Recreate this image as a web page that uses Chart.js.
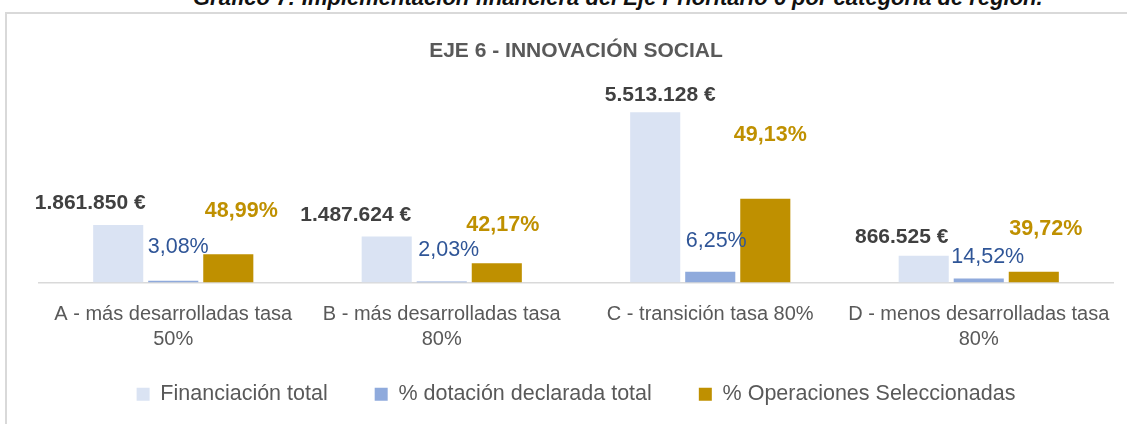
<!DOCTYPE html>
<html lang="es">
<head>
<meta charset="utf-8">
<title>Eje 6 - Innovación social</title>
<script src="https://cdn.jsdelivr.net/npm/chart.js@4.4.1/dist/chart.umd.min.js"></script>
<style>
    html, body { margin: 0; padding: 0; background: #fff; overflow: hidden; width: 1127px; height: 424px; }
    .caption {
        position: absolute; left: 193px; top: -13px; white-space: nowrap;
        font: italic bold 22px 'Liberation Sans', Arial, sans-serif;
        line-height: 22px; color: #111;
    }
    .frame {
        position: absolute; left: 5px; top: 12px; width: 1200px; height: 500px;
        border-left: 2px solid #d9d9d9; border-top: 2px solid #d9d9d9;
    }
    #wrap { position: absolute; left: 7px; top: 14px; width: 1140px; height: 439px; }
</style>
</head>
<body>
<div class="caption">Gráfico 7: Implementación financiera del Eje Prioritario 6 por categoría de región.</div>
<div class="frame"></div>
<div id="wrap"><canvas id="myChart" width="1140" height="439"></canvas></div>
<script>
    // datos del gráfico
    const categorias = [
        ['A - más desarrolladas tasa', '50%'],
        ['B - más desarrolladas tasa', '80%'],
        ['C - transición tasa 80%'],
        ['D - menos desarrolladas tasa', '80%']
    ];
    const financiacionTotal = [1861850, 1487624, 5513128, 866525];
    const pctDotacion = [3.08, 2.03, 6.25, 14.52];
    const pctOperaciones = [48.99, 42.17, 49.13, 39.72];
    const nombresSeries = ['Financiación total', '% dotación declarada total', '% Operaciones Seleccionadas'];

    // desplazamiento de las etiquetas respecto a la parte superior de cada barra (px)
    const despFin = [[-28, -22], [-31, -21], [5, -17], [-22, -19]];
    const despDot = [[5, -34], [7, -31], [6, -31], [9, -22]];
    const despOps = [[13, -43], [6, -38], [5, -64], [12, -43]];

    const FUENTE = "'Liberation Sans', Arial, sans-serif";

    function euros(v) {
        return String(v).replace(/\B(?=(\d{3})+(?!\d))/g, '.') + ' €';
    }
    function pct(v) {
        return v.toFixed(2).replace('.', ',') + '%';
    }

    // las barras de porcentaje se dibujan como importe (financiación x porcentaje)
    const importeDot = financiacionTotal.map((f, i) => f * pctDotacion[i] / 100);
    const importeOps = financiacionTotal.map((f, i) => f * pctOperaciones[i] / 100);

    const etiquetas = [
        { textos: financiacionTotal.map(euros), desp: despFin, color: '#404040', font: 'bold 21px ' + FUENTE },
        { textos: pctDotacion.map(pct), desp: despDot, color: '#2f5597', font: '21.5px ' + FUENTE },
        { textos: pctOperaciones.map(pct), desp: despOps, color: '#bf9000', font: 'bold 21.5px ' + FUENTE }
    ];

    const pluginEtiquetas = {
        id: 'etiquetas',
        afterDatasetsDraw(chart) {
            const ctx = chart.ctx;
            ctx.save();
            ctx.textAlign = 'center';
            ctx.textBaseline = 'middle';
            etiquetas.forEach((et, d) => {
                const meta = chart.getDatasetMeta(d);
                meta.data.forEach((bar, i) => {
                    ctx.font = et.font;
                    ctx.fillStyle = et.color;
                    ctx.fillText(et.textos[i], bar.x + et.desp[i][0], bar.y + et.desp[i][1]);
                });
            });
            ctx.restore();
        }
    };

    // sube la leyenda para acercarla a las etiquetas del eje
    const pluginLeyenda = {
        id: 'subirLeyenda',
        afterLayout(chart) {
            chart.legend.top -= 35;
            chart.legend.bottom -= 35;
        }
    };

    const ctx = document.getElementById('myChart').getContext('2d');
    new Chart(ctx, {
        type: 'bar',
        data: {
            labels: categorias,
            datasets: [
                { label: nombresSeries[0], data: financiacionTotal, backgroundColor: '#dae3f3' },
                { label: nombresSeries[1], data: importeDot, backgroundColor: '#8faadc' },
                { label: nombresSeries[2], data: importeOps, backgroundColor: '#bf9000' }
            ]
        },
        options: {
            responsive: false,
            animation: false,
            layout: { padding: { left: 32, right: 34, top: 0, bottom: 3 } },
            datasets: {
                bar: { categoryPercentage: 0.615, barPercentage: 0.91 }
            },
            plugins: {
                title: {
                    display: true,
                    text: 'EJE 6 - INNOVACIÓN SOCIAL',
                    color: '#595959',
                    font: { family: FUENTE, size: 21, weight: 'bold' },
                    padding: { top: 25, bottom: 33 }
                },
                legend: {
                    display: true,
                    position: 'bottom',
                    labels: {
                        color: '#595959',
                        font: { family: FUENTE, size: 21.5 },
                        boxWidth: 13,
                        boxHeight: 13,
                        padding: 47
                    }
                },
                tooltip: { enabled: false }
            },
            scales: {
                x: {
                    grid: { display: false, drawTicks: false },
                    border: { display: true, color: '#d9d9d9', width: 1.5 },
                    ticks: {
                        color: '#595959',
                        padding: 19.5,
                        maxRotation: 0,
                        autoSkip: false,
                        font: { family: FUENTE, size: 20, lineHeight: '25px' }
                    }
                },
                y: {
                    display: false,
                    min: 0,
                    max: 6000000
                }
            }
        },
        plugins: [pluginEtiquetas, pluginLeyenda]
    });
</script>
</body>
</html>
